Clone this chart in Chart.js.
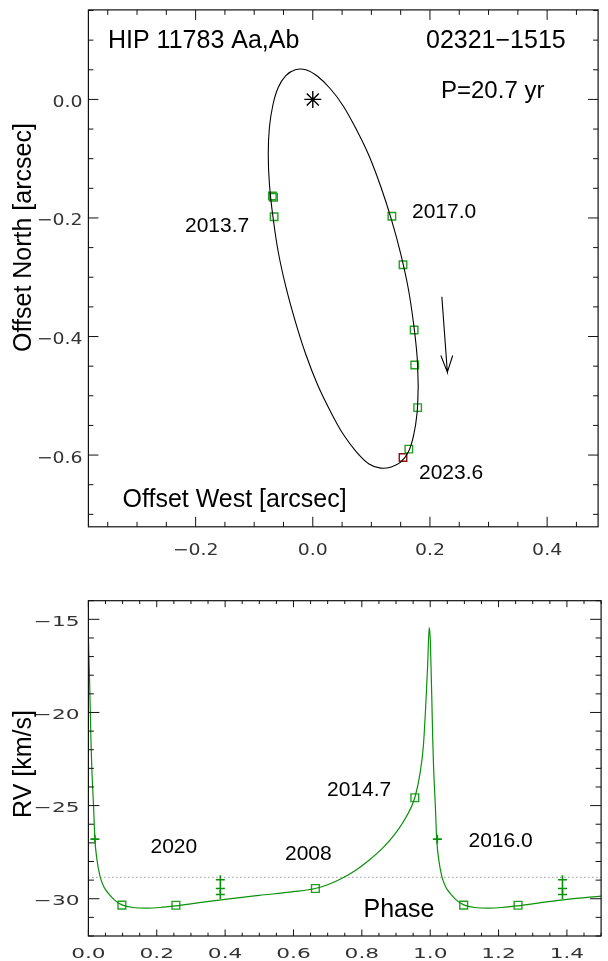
<!DOCTYPE html>
<html>
<head>
<meta charset="utf-8">
<script src="https://cdn.jsdelivr.net/npm/chart.js@4.4.1/dist/chart.umd.min.js"></script>
<style>
  html, body { margin: 0; padding: 0; background: #fff; overflow: hidden; }
  #orbit { position: absolute; left: 0; top: 0; }
  #rv { position: absolute; left: 0; top: 590px; }
</style>
</head>
<body>
<canvas id="orbit" width="608" height="565"></canvas>
<canvas id="rv" width="608" height="371"></canvas>
<script>
// --- orbit panel (arcsec) ---
const orbitX = [0.180, 0.178, 0.172, 0.163, 0.150, 0.134, 0.116, 0.096, 0.074, 0.052, 0.030, 0.008, -0.012, -0.030, -0.046, -0.059, -0.068, -0.074, -0.076,
  -0.074, -0.068, -0.059, -0.046, -0.030, -0.012, 0.008, 0.030, 0.052, 0.074, 0.096, 0.116, 0.134, 0.150, 0.163, 0.172, 0.178, 0.180];
const orbitY = [-0.484, -0.433, -0.378, -0.319, -0.260, -0.202, -0.147, -0.095, -0.050, -0.011, 0.018, 0.039, 0.050, 0.050, 0.040, 0.020, -0.009, -0.047, -0.092,
  -0.143, -0.198, -0.257, -0.316, -0.374, -0.430, -0.481, -0.526, -0.565, -0.594, -0.615, -0.622, -0.620, -0.612, -0.595, -0.567, -0.529, -0.484];
const obsX = [-0.069, -0.067, -0.066, 0.135, 0.154, 0.173, 0.174, 0.179, 0.164];
const obsY = [-0.163, -0.165, -0.198, -0.197, -0.279, -0.389, -0.448, -0.520, -0.590];
const lastX = [0.154];
const lastY = [-0.604];
const arrowX = [0.2203, 0.2297, 0.2186, 0.2297, 0.2388];
const arrowY = [-0.333, -0.460, -0.432, -0.460, -0.432];

// --- RV panel ---
const rvPhase = [0.000, 0.0025, 0.005, 0.0075, 0.010, 0.015, 0.019, 0.025, 0.034, 0.045, 0.058, 0.075, 0.098, 0.13, 0.17, 0.21, 0.256, 0.32, 0.40, 0.50,
  0.60, 0.664, 0.70, 0.745, 0.78, 0.82, 0.86, 0.90, 0.93, 0.955, 0.97, 0.98, 0.9876, 0.9925, 0.997,
  1.000, 1.0025, 1.005, 1.0075, 1.010, 1.015, 1.019, 1.025, 1.034, 1.045, 1.058, 1.075, 1.098, 1.13, 1.17, 1.21, 1.256, 1.32, 1.40, 1.50];
const rvModel = [-16.0, -17.6, -19.5, -21.5, -23.0, -25.0, -26.8, -27.9, -28.8, -29.35, -29.7, -30.05, -30.33, -30.47, -30.5, -30.47, -30.38, -30.22, -30.03, -29.82,
  -29.62, -29.45, -29.25, -28.87, -28.5, -27.95, -27.3, -26.45, -25.6, -24.58, -23.3, -21.8, -19.4, -17.5, -15.45,
  -16.0, -17.6, -19.5, -21.5, -23.0, -25.0, -26.8, -27.9, -28.8, -29.35, -29.7, -30.05, -30.33, -30.47, -30.5, -30.47, -30.38, -30.22, -30.03, -29.86];
const sqPhase = [0.098, 0.256, 0.664, 0.955, 1.098, 1.257];
const sqRV = [-30.34, -30.35, -29.45, -24.58, -30.34, -30.35];
const plusPhase = [0.019, 1.021, 0.386, 0.386, 0.386, 1.387, 1.387, 1.387];
const plusRV = [-26.8, -26.8, -28.98, -29.45, -29.77, -28.98, -29.45, -29.77];
const gammaRV = -28.85;

function pts(xs, ys) { return xs.map((x, i) => ({ x: x, y: ys[i] })); }
function minusFmt(v, d) {
  const r = Math.round(v * 1000) / 1000;
  return (r < 0 ? '\u2212' : '') + Math.abs(r).toFixed(d);
}

// frame, inward ticks, tick labels and annotation text
const decorPlugin = {
  id: 'decor',
  afterDraw(chart, args, o) {
    const ctx = chart.ctx, a = chart.chartArea;
    const xs = chart.scales.x, ys = chart.scales.y;
    ctx.save();
    ctx.strokeStyle = '#111';
    ctx.lineWidth = 1.2;
    ctx.strokeRect(a.left, a.top, a.right - a.left, a.bottom - a.top);
    ctx.lineWidth = 1;
    ctx.beginPath();
    const ticksOn = (scale, minor, lenMaj, lenMin, horiz) => {
      const majors = scale.ticks.map(t => t.value);
      const k0 = Math.ceil(scale.min / minor - 1e-6), k1 = Math.floor(scale.max / minor + 1e-6);
      for (let k = k0; k <= k1; k++) {
        const v = k * minor;
        const isMaj = majors.some(m => Math.abs(m - v) < minor / 10);
        const len = isMaj ? lenMaj : lenMin;
        const p = scale.getPixelForValue(v);
        if (horiz) {
          ctx.moveTo(p, a.bottom); ctx.lineTo(p, a.bottom - len);
          ctx.moveTo(p, a.top); ctx.lineTo(p, a.top + len);
        } else {
          ctx.moveTo(a.left, p); ctx.lineTo(a.left + len, p);
          ctx.moveTo(a.right, p); ctx.lineTo(a.right - len, p);
        }
      }
    };
    ticksOn(xs, o.xMinor, o.xMaj, o.xMin, true);
    ticksOn(ys, o.yMinor, o.yMaj, o.yMin, false);
    ctx.stroke();

    // tick labels, horizontally stretched like the original plot font
    ctx.fillStyle = '#333';
    ctx.font = o.tickFont;
    const put = (txt, x, y, align, sx) => {
      ctx.save();
      ctx.translate(x, y);
      ctx.scale(sx, 1);
      ctx.textAlign = align;
      ctx.textBaseline = 'alphabetic';
      ctx.fillText(txt, 0, 0);
      ctx.restore();
    };
    xs.ticks.forEach(t => put(minusFmt(t.value, o.xDec), xs.getPixelForValue(t.value), o.xLabelBase, 'center', o.stretch));
    ys.ticks.forEach(t => put(minusFmt(t.value, o.yDec), o.yLabelRight, ys.getPixelForValue(t.value) + o.yLabelDrop, 'right', o.stretch));

    // annotations
    ctx.fillStyle = '#000';
    o.texts.forEach(t => {
      ctx.save();
      ctx.font = t.font;
      ctx.translate(t.x, t.y - o.offsetTop);
      if (t.rot) ctx.rotate(-Math.PI / 2);
      ctx.textAlign = t.align || 'left';
      ctx.textBaseline = 'alphabetic';
      ctx.fillText(t.s, 0, 0);
      ctx.restore();
    });
    ctx.restore();
  }
};

const big = '25px "Liberation Sans", Arial, sans-serif';
const mid = '24px "Liberation Sans", Arial, sans-serif';
const yr = '21px "Liberation Sans", Arial, sans-serif';

new Chart(document.getElementById('orbit'), {
  type: 'scatter',
  data: {
    datasets: [
      { data: pts(orbitX, orbitY), showLine: true, borderColor: '#000', borderWidth: 1.1, pointRadius: 0, tension: 0.35 },
      { data: pts(obsX, obsY), pointStyle: 'rect', pointRadius: 5.3, borderColor: '#22a022', backgroundColor: 'rgba(0,0,0,0)', borderWidth: 1.4 },
      { data: pts(lastX, lastY), pointStyle: 'rect', pointRadius: 5.3, borderColor: '#8b1010', backgroundColor: 'rgba(0,0,0,0)', borderWidth: 1.4 },
      { data: [{ x: 0, y: 0 }], pointStyle: 'star', pointRadius: 8.5, borderColor: '#000', backgroundColor: '#000', borderWidth: 1.4 },
      { data: pts(arrowX, arrowY), showLine: true, borderColor: '#000', borderWidth: 1.1, pointRadius: 0, tension: 0 }
    ]
  },
  options: {
    animation: false, responsive: false, devicePixelRatio: 1,
    layout: { padding: { left: 0, right: 1.2, top: 7.1, bottom: 0 } },
    plugins: {
      legend: { display: false }, tooltip: { enabled: false },
      decor: {
        xMinor: 0.05, yMinor: 0.05, xMaj: 10, xMin: 5, yMaj: 10, yMin: 5,
        tickFont: '16px "DejaVu Sans", sans-serif', stretch: 1.18, xDec: 1, yDec: 1,
        xLabelBase: 555, yLabelRight: 82.5, yLabelDrop: 7.5, offsetTop: 0,
        texts: [
          { s: 'HIP 11783 Aa,Ab', x: 108, y: 48, font: big },
          { s: '02321\u22121515', x: 426, y: 48, font: big },
          { s: 'P=20.7 yr', x: 441, y: 97.5, font: mid },
          { s: '2013.7', x: 185, y: 232, font: yr },
          { s: '2017.0', x: 412, y: 218, font: yr },
          { s: '2023.6', x: 419, y: 478.5, font: yr },
          { s: 'Offset West [arcsec]', x: 122.5, y: 507, font: big },
          { s: 'Offset North [arcsec]', x: 31, y: 237.5, font: big, rot: true, align: 'center' }
        ]
      }
    },
    scales: {
      x: { type: 'linear', min: -0.383, max: 0.487, grid: { display: false }, border: { display: false },
        ticks: { display: false, stepSize: 0.2, includeBounds: false }, afterFit: s => { s.height = 38.2; } },
      y: { type: 'linear', min: -0.721, max: 0.151, grid: { display: false }, border: { display: false },
        ticks: { display: false, stepSize: 0.2, includeBounds: false }, afterFit: s => { s.width = 88.4; } }
    }
  },
  plugins: [decorPlugin]
});

const green = 'rgb(10,145,10)';
new Chart(document.getElementById('rv'), {
  type: 'scatter',
  data: {
    datasets: [
      { data: [{ x: 0, y: gammaRV }, { x: 1.5, y: gammaRV }], showLine: true, borderColor: '#666', borderWidth: 1, borderDash: [1, 3], pointRadius: 0 },
      { data: pts(rvPhase, rvModel), showLine: true, borderColor: green, borderWidth: 1.2, pointRadius: 0, cubicInterpolationMode: 'monotone' },
      { data: pts(sqPhase, sqRV), pointStyle: 'rect', pointRadius: 5.5, borderColor: '#22a022', backgroundColor: 'rgba(0,0,0,0)', borderWidth: 1.4 },
      { data: pts(plusPhase, plusRV), pointStyle: 'cross', pointRadius: 4.5, borderColor: green, borderWidth: 1.6 }
    ]
  },
  options: {
    animation: false, responsive: false, devicePixelRatio: 1,
    layout: { padding: { left: 0, right: 1.2, top: 10.7, bottom: 0 } },
    plugins: {
      legend: { display: false }, tooltip: { enabled: false },
      decor: {
        xMinor: 0.05, yMinor: 1, xMaj: 6.5, xMin: 3.3, yMaj: 11, yMin: 5.5,
        tickFont: '14px "DejaVu Sans", sans-serif', stretch: 1.55, xDec: 1, yDec: 0,
        xLabelBase: 367.5, yLabelRight: 79.5, yLabelDrop: 6.5, offsetTop: 590,
        texts: [
          { s: '2020', x: 150.5, y: 853.3, font: yr },
          { s: '2008', x: 285, y: 860, font: yr },
          { s: '2014.7', x: 327, y: 796, font: yr },
          { s: '2016.0', x: 468.5, y: 846.7, font: yr },
          { s: 'Phase', x: 363.5, y: 916.7, font: big },
          { s: 'RV [km/s]', x: 31, y: 764, font: big, rot: true, align: 'center' }
        ]
      }
    },
    scales: {
      x: { type: 'linear', min: 0, max: 1.5, grid: { display: false }, border: { display: false },
        ticks: { display: false, stepSize: 0.2, includeBounds: false }, afterFit: s => { s.height = 25; } },
      y: { type: 'linear', min: -32, max: -14, grid: { display: false }, border: { display: false },
        ticks: { display: false, stepSize: 5, includeBounds: false }, afterFit: s => { s.width = 88.4; } }
    }
  },
  plugins: [decorPlugin]
});
</script>
</body>
</html>
